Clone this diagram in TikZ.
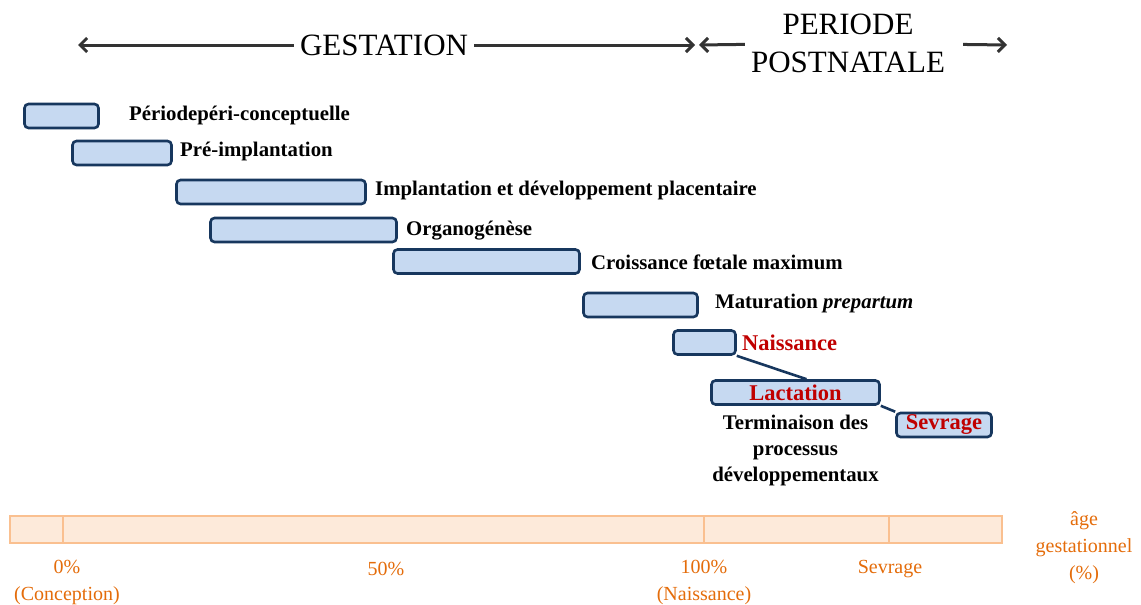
\documentclass[tikz,border=0pt]{standalone}
\usepackage{fontspec}
\setmainfont{Liberation Serif}
\usetikzlibrary{calc,arrows.meta,positioning}
\definecolor{barfill}{HTML}{C6D9F1}
\definecolor{bardraw}{HTML}{17375E}
\definecolor{axfill}{HTML}{FDEADA}
\definecolor{axdraw}{HTML}{FAC090}
\definecolor{axtext}{HTML}{E46C0A}
\definecolor{redtext}{HTML}{C00000}
\definecolor{arrgray}{HTML}{333333}

\begin{document}
\begin{tikzpicture}[x=1pt,y=-1pt,
  bar/.style={draw=bardraw,fill=barfill,line width=2.6pt,rounded corners=4pt,inner sep=0pt,minimum height=24pt},
  lbl/.style={anchor=west,inner sep=0pt,font=\fontsize{20.8}{26}\selectfont\bfseries},
  redlbl/.style={text=redtext,font=\fontsize{22.5}{26}\selectfont\bfseries},
  axlbl/.style={text=axtext,align=center,inner sep=0pt,font=\fontsize{20}{27}\selectfont},
  period/.style={align=center,inner sep=6pt,font=\fontsize{31}{38}\selectfont},
  link/.style={draw=bardraw,line width=2.6pt},
  timearrow/.style={-{Straight Barb[length=7pt,width=14pt]},line width=3pt,draw=arrgray}]
\useasboundingbox (0,0) rectangle (1141,605);

\coordinate (gL) at (78,45);
\coordinate (gR) at (695,45);
\coordinate (pL) at (699,45);
\coordinate (pR) at (1007,45);

\node[period] (gest) at (384,45) {GESTATION};
\node[period] (post) at (848,43) {PERIODE\\POSTNATALE};

\draw[timearrow] (gest) -- (gL);
\draw[timearrow] (gest) -- (gR);
\draw[timearrow] (post) -- (pL);
\draw[timearrow,shorten <=12pt] (post) -- (pR);

\foreach \n/\x/\y/\w in
  {per/61.5/116/74,
   pre/122/153/99,
   impl/271/192/189,
   org/303.5/230/186,
   crois/486.5/261.5/186,
   mat/640.5/305/114,
   nais/704.5/342.5/62}
  {
    \node[bar,minimum width=\w pt] (\n) at (\x,\y) {};
  };

\foreach \n/\x/\y/\t in
  {per/129/115/{Périodepéri-conceptuelle},
   pre/180/151/{Pré-implantation},
   impl/375/190/{Implantation et développement placentaire},
   org/406/231/{Organogénèse},
   crois/591/262/{Croissance fœtale maximum},
   mat/715/303/{Maturation \textit{prepartum}},
   nais/742/343/{\textcolor{redtext}{\fontsize{22.5}{26}\selectfont Naissance}}}
  {
    \node[lbl] (\n-txt) at (\x,\y) {\t};
  };

\node[bar,redlbl,minimum width=168pt] (lact) at (795.5,392.5) {Lactation};
\node[bar,redlbl,minimum width=95pt] (sevr) at (944,425) {Sevrage};
\node[lbl,align=center,below=9pt of lact] (term) {Terminaison des\\processus\\développementaux};

\draw[link] (nais.south east) -- ($(lact.north)+(11,0)$);
\draw[link] (lact.south east) -- (sevr.north west);

\draw[draw=axdraw,fill=axfill,line width=2pt] (10,516) rectangle (1002,543);
\foreach \x in {63,704,889}
  \draw[draw=axdraw,line width=2pt] (\x,516) -- (\x,543);

\node[axlbl] (ax0) at (67,582) {0\%\\(Conception)};
\node[axlbl] (ax50) at (386,569) {50\%};
\node[axlbl] (ax100) at (704,582) {100\%\\(Naissance)};
\node[axlbl] (axsev) at (890,569) {Sevrage};
\node[axlbl] (axage) at (1084,548) {âge\\gestationnel\\(\%)};
\end{tikzpicture}
\end{document}
